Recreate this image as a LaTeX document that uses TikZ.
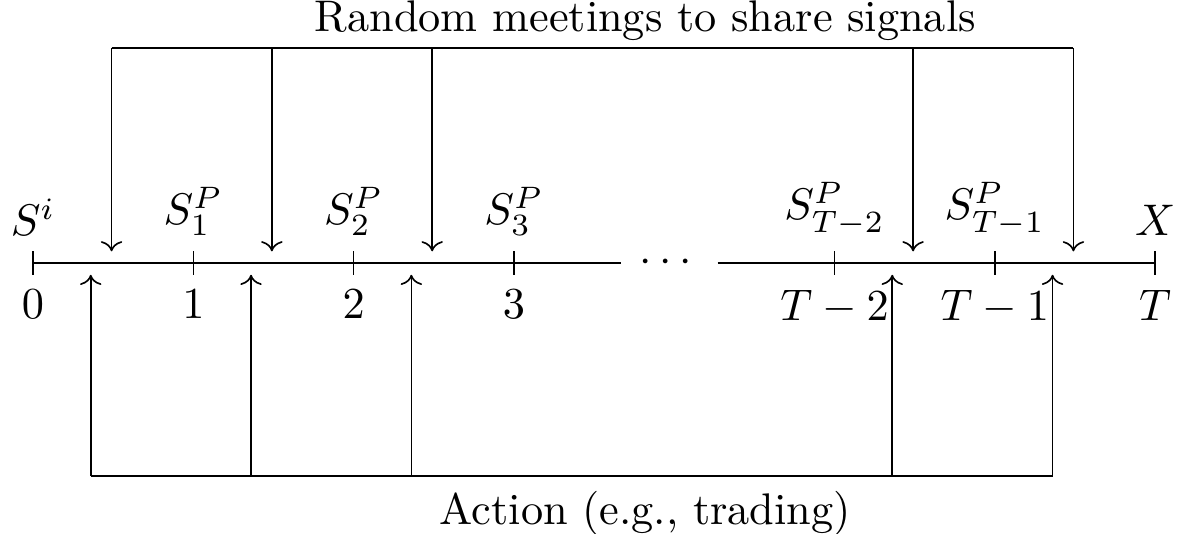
\documentclass[tikz,border=0pt]{standalone}
\usepackage{amsmath}
\usetikzlibrary{arrows.meta,positioning}

\begin{document}
\begin{tikzpicture}[x=1.37cm,y=1cm,
    every node/.style={scale=1.077}]
    \useasboundingbox (-0.206,-2.308) rectangle (7.155,2.248);

    % time axis, broken by the dots
    \coordinate (t0) at (0,0);
    \coordinate (t1) at (1,0);
    \coordinate (t2) at (2,0);
    \coordinate (t3) at (3,0);
    \coordinate (t5) at (5,0);
    \coordinate (t6) at (6,0);
    \coordinate (t7) at (7,0);
    \node[inner xsep=4pt] (dots) at (3.97,0) {$\cdots$};
    \draw (t0) -- (dots);
    \draw (dots) -- (t7);
    \draw (t0) ++(0,0.1) -- ++(0,-0.2);
    \draw (t1) ++(0,0.1) -- ++(0,-0.2);
    \draw (t2) ++(0,0.1) -- ++(0,-0.2);
    \draw (t3) ++(0,0.1) -- ++(0,-0.2);
    \draw (t5) ++(0,0.1) -- ++(0,-0.2);
    \draw (t6) ++(0,0.1) -- ++(0,-0.2);
    \draw (t7) ++(0,0.1) -- ++(0,-0.2);

    % signals above, dates below
    \node[above] (si) at (0,0.1) {$S^i$};
    \node[above] (sp1) at (1,0.1) {$S_1^P$};
    \node[above] (sp2) at (2,0.1) {$S_2^P$};
    \node[above] (sp3) at (3,0.1) {$S_3^P$};
    \node[above] (spt2) at (5,0.1) {$S_{T-2}^P$};
    \node[above] (spt1) at (6,0.1) {$S_{T-1}^P$};
    \node[above] (x) at (7,0.1) {$X$};
    \node[below] (d0) at (0,-0.1) {$0$};
    \node[below] (d1) at (1,-0.1) {$1$};
    \node[below] (d2) at (2,-0.1) {$2$};
    \node[below] (d3) at (3,-0.1) {$3$};
    \node[below] (dt2) at (5,-0.1) {$T-2$};
    \node[below] (dt1) at (6,-0.1) {$T-1$};
    \node[below] (dt) at (7,-0.1) {$T$};

    % meetings: bracket on top
    \coordinate (m1) at (0.49,1.84);
    \coordinate (m2) at (1.49,1.84);
    \coordinate (m3) at (2.49,1.84);
    \coordinate (m4) at (5.49,1.84);
    \coordinate (m5) at (6.49,1.84);
    \draw (m1) -- (m5);
    \draw[->] (m1) -- ++(0,-1.74);
    \draw[->] (m2) -- ++(0,-1.74);
    \draw[->] (m3) -- ++(0,-1.74);
    \draw[->] (m4) -- ++(0,-1.74);
    \draw[->] (m5) -- ++(0,-1.74);
    \node (meet) at (3.82,2.075) {Random meetings to share signals};

    % actions: bracket below
    \coordinate (a1) at (0.36,-1.82);
    \coordinate (a2) at (1.36,-1.82);
    \coordinate (a3) at (2.36,-1.82);
    \coordinate (a4) at (5.36,-1.82);
    \coordinate (a5) at (6.36,-1.82);
    \draw (a1) -- (a5);
    \draw[->] (a1) -- ++(0,1.72);
    \draw[->] (a2) -- ++(0,1.72);
    \draw[->] (a3) -- ++(0,1.72);
    \draw[->] (a4) -- ++(0,1.72);
    \draw[->] (a5) -- ++(0,1.72);
    \node[below] (act) at (3.82,-1.82) {Action (e.g., trading)};
  \end{tikzpicture}
\end{document}
